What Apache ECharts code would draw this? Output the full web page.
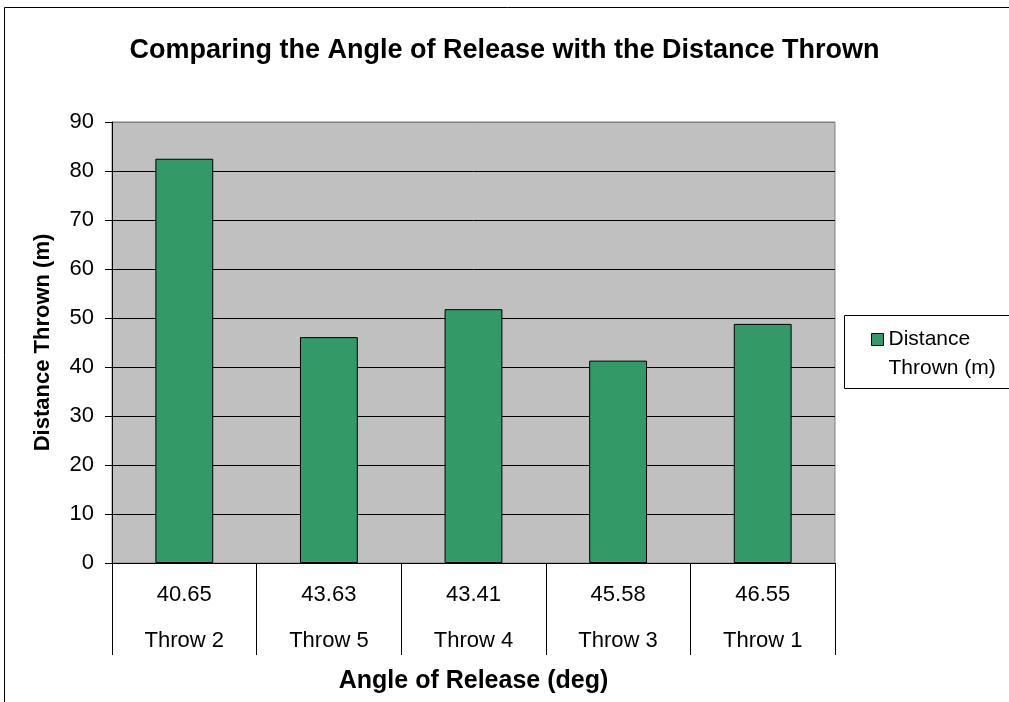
<!DOCTYPE html>
<html>
<head>
<meta charset="utf-8">
<script src="https://cdn.jsdelivr.net/npm/echarts@6/dist/echarts.min.js"></script>
<style>html,body{margin:0;padding:0;background:#fff}#c{width:1009px;height:702px}</style>
</head>
<body>
<div id="c"></div>
<script>
const categories = ['Throw 2', 'Throw 5', 'Throw 4', 'Throw 3', 'Throw 1'];
const angles = ['40.65', '43.63', '43.41', '45.58', '46.55'];
const distances = [82.5, 46.1, 51.8, 41.3, 48.8];
const yTicks = { min: 0, max: 90, interval: 10 };

const FONT = '"Liberation Sans", Arial, sans-serif';
const gridColors = ['#000', '#000', '#000', '#000', '#000', '#000', '#000', '#000', '#000', '#808080'];
const chart = echarts.init(document.getElementById('c'));
chart.setOption({
  animation: false,
  backgroundColor: '#fff',
  textStyle: { fontFamily: FONT },
  title: {
    text: 'Comparing the Angle of Release with the Distance Thrown',
    left: 'center', top: 32,
    textStyle: { fontFamily: FONT, fontSize: 27, fontWeight: 'bold', color: '#000' }
  },
  graphic: [
    { type: 'rect', z: -10, silent: true,
      shape: { x: 4.5, y: 7.5, width: 1100, height: 800 },
      style: { fill: 'none', stroke: '#000', lineWidth: 1 } },
    { type: 'rect', z: -5, silent: true,
      shape: { x: 844.5, y: 315.5, width: 200, height: 73 },
      style: { fill: '#fff', stroke: '#000', lineWidth: 1 } }
  ],
  legend: {
    left: 866, top: 291,
    itemWidth: 12, itemHeight: 12,
    icon: 'rect',
    formatter: () => '\nDistance\nThrown (m)',
    itemStyle: { borderColor: '#000', borderWidth: 1 },
    textStyle: { fontFamily: FONT, fontSize: 21, color: '#000', lineHeight: 29 }
  },
  grid: {
    left: 112, right: 174, top: 122, bottom: 139,
    show: true, backgroundColor: '#C0C0C0', borderColor: '#808080', borderWidth: 1
  },
  xAxis: {
    type: 'category',
    data: categories,
    name: 'Angle of Release (deg)',
    nameLocation: 'middle', nameGap: 105,
    nameTextStyle: { fontFamily: FONT, fontSize: 25, fontWeight: 'bold', color: '#000' },
    axisLine: { lineStyle: { color: '#000', width: 1 } },
    axisTick: { show: true, length: 92, interval: 0, lineStyle: { color: '#000', width: 1 } },
    axisLabel: {
      interval: 0, margin: 9, lineHeight: 46,
      fontFamily: FONT, fontSize: 22, color: '#000',
      formatter: (v, i) => angles[i] + '\n' + v
    }
  },
  yAxis: {
    type: 'value',
    min: yTicks.min, max: yTicks.max, interval: yTicks.interval,
    name: 'Distance Thrown (m)',
    nameLocation: 'middle', nameGap: 58,
    nameTextStyle: { fontFamily: FONT, fontSize: 22, fontWeight: 'bold', color: '#000' },
    axisLine: { show: true, lineStyle: { color: '#000', width: 1 } },
    axisTick: { show: true, length: 7, lineStyle: { color: '#000' } },
    axisLabel: { margin: 18, fontFamily: FONT, fontSize: 22, color: '#000' },
    splitLine: { show: true, lineStyle: { color: gridColors, width: 1 } }
  },
  series: [{
    type: 'bar',
    name: 'Distance Thrown (m)',
    data: distances,
    barCategoryGap: '60%',
    itemStyle: { color: '#339966', borderColor: '#000', borderWidth: 1 }
  }]
});
</script>
</body>
</html>
